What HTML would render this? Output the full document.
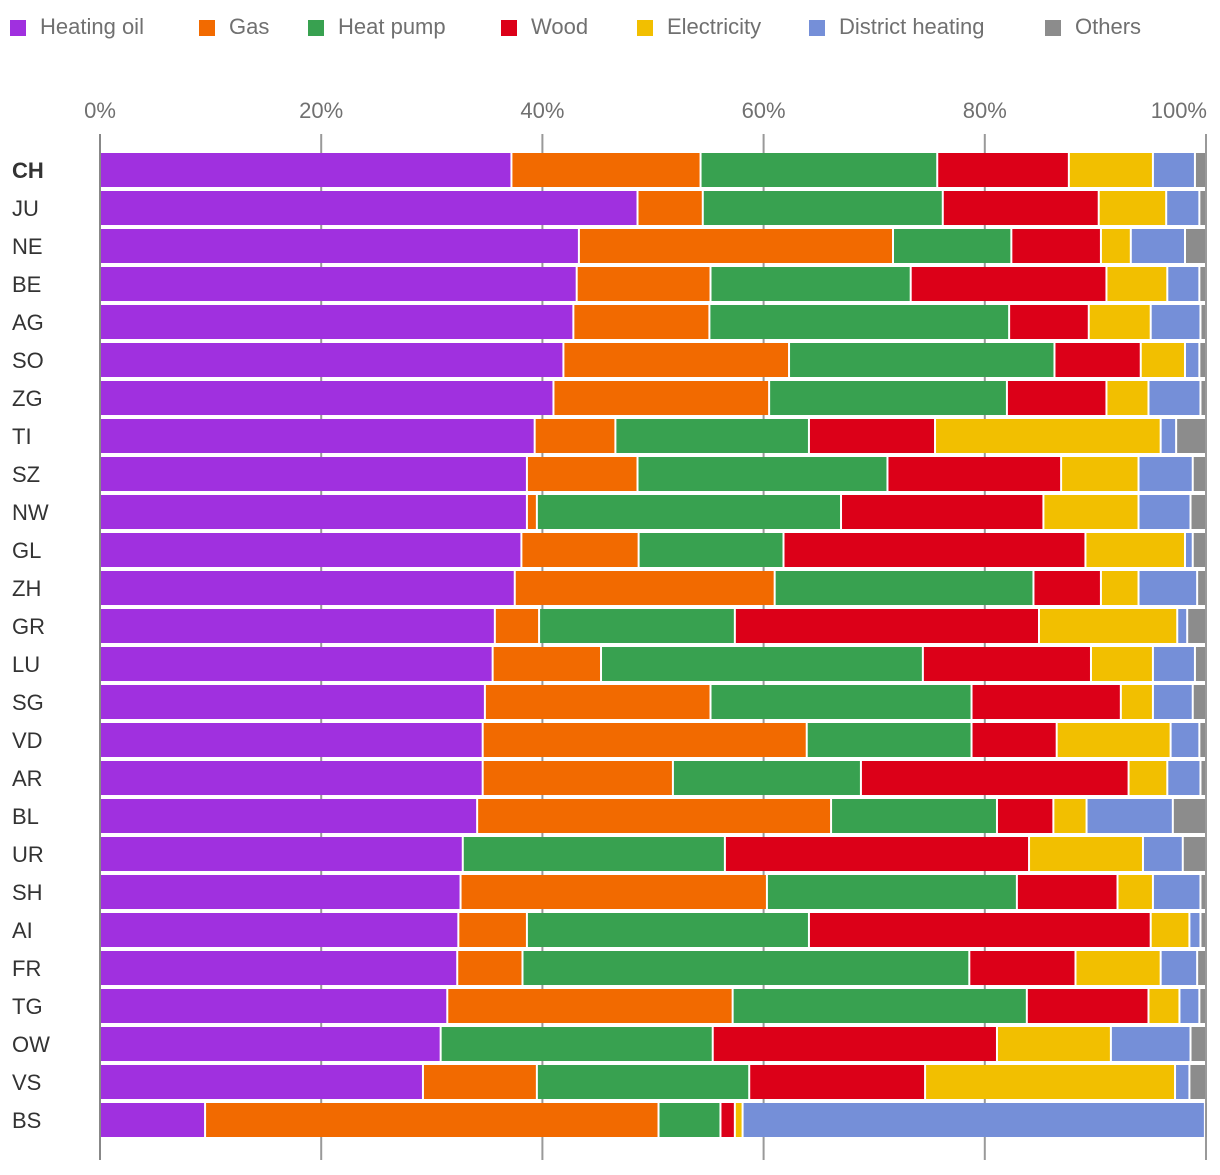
<!DOCTYPE html>
<html><head><meta charset="utf-8">
<style>
html,body{margin:0;padding:0;background:#fff;}
body{width:1220px;height:1170px;overflow:hidden;font-family:"Liberation Sans","DejaVu Sans",sans-serif;}
</style></head>
<body>
<svg id="chart" width="1220" height="1170" xmlns="http://www.w3.org/2000/svg"></svg>
<script>
const categories = ["CH","JU","NE","BE","AG","SO","ZG","TI","SZ","NW","GL","ZH","GR","LU","SG","VD","AR","BL","UR","SH","AI","FR","TG","OW","VS","BS"];
const seriesNames = ["Heating oil","Gas","Heat pump","Wood","Electricity","District heating","Others"];
const heatingOil = [37.2,48.6,43.3,43.1,42.8,41.9,41.0,39.3,38.6,38.6,38.1,37.5,35.7,35.5,34.8,34.6,34.6,34.1,32.8,32.6,32.4,32.3,31.4,30.8,29.2,9.5];
const gas        = [17.1,5.9,28.4,12.1,12.3,20.4,19.5,7.3,10.0,0.9,10.6,23.5,4.0,9.8,20.4,29.3,17.2,32.0,0,27.7,6.2,5.9,25.8,0,10.3,41.0];
const heatPump   = [21.4,21.7,10.7,18.1,27.1,24.0,21.5,17.5,22.6,27.5,13.1,23.4,17.7,29.1,23.6,14.9,17.0,15.0,23.7,22.6,25.5,40.4,26.6,24.6,19.2,5.6];
const wood       = [11.9,14.1,8.1,17.7,7.2,7.8,9.0,11.4,15.7,18.3,27.3,6.1,27.5,15.2,13.5,7.7,24.2,5.1,27.5,9.1,30.9,9.6,11.0,25.7,15.9,1.3];
const electricity= [7.6,6.1,2.7,5.5,5.6,4.0,3.8,20.4,7.0,8.6,9.0,3.4,12.5,5.6,2.9,10.3,3.5,3.0,10.3,3.2,3.5,7.7,2.8,10.3,22.6,0.7];
const district   = [3.8,3.0,4.9,2.9,4.5,1.3,4.7,1.4,4.9,4.7,0.7,5.3,0.9,3.8,3.6,2.6,3.0,7.8,3.6,4.3,1.0,3.3,1.8,7.2,1.3,41.8];
const others     = [1.0,0.6,1.9,0.6,0.5,0.6,0.5,2.7,1.2,1.4,1.2,0.8,1.7,1.0,1.2,0.6,0.5,3.0,2.1,0.5,0.5,0.8,0.6,1.4,1.5,0.1];
const tickValues = [0,20,40,60,80,100];
const tickLabels = ["0%","20%","40%","60%","80%","100%"];

const series = [heatingOil,gas,heatPump,wood,electricity,district,others];
const colors = ["#a030df","#f26a00","#38a150","#dc0018","#f2bf00","#758fd8","#8c8c8c"];
const slugs = ["heating-oil","gas","heat-pump","wood","electricity","district-heating","others"];
const NS="http://www.w3.org/2000/svg";
const svg=document.getElementById('chart');
const x0=100,x1=1206;
function xScale(v){return x0+(x1-x0)*v/100;}
function yScale(i){return 170+i*38;}
function mk(tag,attrs){const e=document.createElementNS(NS,tag);for(const k in attrs)e.setAttribute(k,attrs[k]);svg.appendChild(e);return e;}

const legendX=[10,199,308,501,637,809,1045];
seriesNames.forEach((n,i)=>{
  const r=mk('rect',{x:legendX[i],y:20,width:16,height:16,fill:colors[i]});
  
  
  const t=mk('text',{x:legendX[i]+30,y:34,'font-size':22,fill:'#707070'});
  t.textContent=n;
  
  
});

tickValues.forEach((v,i)=>{
  const x=xScale(v);
  const l=mk('line',{x1:x,x2:x,y1:134,y2:1160,stroke:v===0?'#888':'#999','stroke-width':2});
  
  
  const last=i===tickValues.length-1;
  const t=mk('text',{x:last?x+1:x,y:118,'font-size':22,fill:'#707070','text-anchor':last?'end':'middle'});
  t.textContent=tickLabels[i];
  
  
});

categories.forEach((c,i)=>{
  const yc=yScale(i);
  const t=mk('text',{x:12,y:yc+8,'font-size':22,fill:'#333','font-weight':i===0?'bold':'normal'});
  t.textContent=c;
  
  
  let cum=0;
  series.forEach((s,k)=>{
    const v=s[i];
    const xa=xScale(cum), xb=xScale(cum+v);
    cum+=v;
    if(v<=0) return;
    const w=Math.max(0.5,xb-xa-2);
    const r=mk('rect',{x:xa+1,y:yc-17,width:w,height:34,fill:colors[k]});
    
    
  });
});
</script>
</body></html>
